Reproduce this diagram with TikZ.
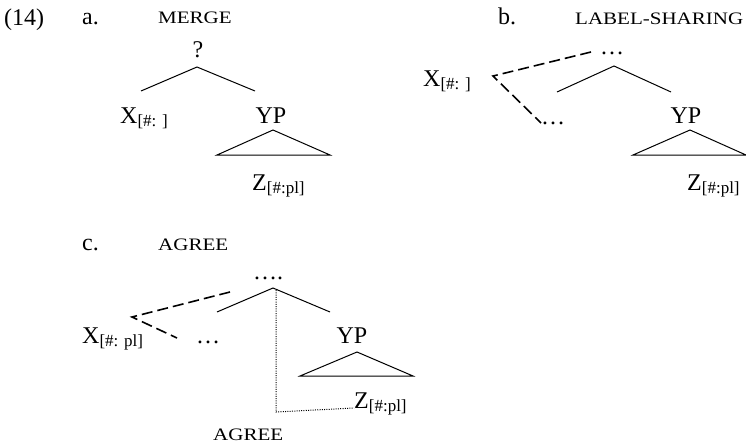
\documentclass[tikz,border=0pt]{standalone}
\usepackage{fontspec}
\setmainfont{Liberation Serif}
\newfontfamily\capsfont[FakeStretch=1.2]{Liberation Serif}
\newcommand{\featsub}[1]{\raisebox{-3pt}{\fontsize{17}{20}\selectfont#1}}

\begin{document}
\begin{tikzpicture}[
  x=1pt, y=-1pt,
  every node/.style={inner sep=0pt, anchor=base west, font=\fontsize{24}{28}\selectfont},
  lbl/.style={font=\capsfont\fontsize{17.5}{20}\selectfont},
  branch/.style={line width=1pt},
  share/.style={line width=1.6pt, dash pattern=on 11pt off 5pt},
  agr/.style={line width=1pt, dash pattern=on 1pt off 1.3pt}
]
\useasboundingbox (0,0) rectangle (746,444);

\node (ex) at (4,26) {(14)};
\node (a) at (82,25) {a.};
\node[lbl] (merge) at (158,24) {MERGE};
\node[anchor=base] (qa) at (198,57) {?};
\node (xa) at (120,123) {X\featsub{[\#: ]}};
\node[anchor=base] (ypa) at (271,123) {YP};
\node (za) at (252,190) {Z\featsub{[\#:pl]}};
\coordinate (ta) at (197,67);
\coordinate (tal) at (141,91);
\coordinate (tar) at (255,91);
\coordinate (tra) at (273,130);
\coordinate (tral) at (217,155);
\coordinate (trar) at (330,155);
\draw[branch] (tal) -- (ta) -- (tar);
\draw[branch] (tral) -- (tra) -- (trar) -- cycle;

\node (b) at (498,25) {b.};
\node[lbl] (share) at (575,25) {LABEL-SHARING};
\node (dotsb) at (600,55) {…};
\node (xb) at (423,86) {X\featsub{[\#: ]}};
\node (lowb) at (541,124) {…};
\node[anchor=base] (ypb) at (686,123) {YP};
\node (zb) at (687,190) {Z\featsub{[\#:pl]}};
\coordinate (sb) at (493,76);
\coordinate (sbu) at (591,52);
\coordinate (sbl) at (541,123);
\coordinate (tb) at (614,66);
\coordinate (tbl) at (557,92);
\coordinate (tbr) at (671,92);
\coordinate (trb) at (690,130);
\coordinate (trbl) at (633,155);
\coordinate (trbr) at (746,155);
\draw[share] (sbu) -- (sb) -- (sbl);
\draw[branch] (tbl) -- (tb) -- (tbr);
\draw[branch] (trbl) -- (trb) -- (trbr) -- cycle;

\node (c) at (82,250) {c.};
\node[lbl] (agree) at (158,250) {AGREE};
\node (dotsc) at (253,279) {….};
\node (xc) at (82,343) {X\featsub{[\#: pl]}};
\node (lowc) at (196,343) {…};
\node[anchor=base] (ypc) at (352,343) {YP};
\node (zc) at (354,408) {Z\featsub{[\#:pl]}};
\node[lbl] (agreeb) at (213,440) {AGREE};
\coordinate (sc) at (132,317);
\coordinate (scu) at (230,292);
\coordinate (scl) at (177,338);
\coordinate (tc) at (273,288);
\coordinate (tcl) at (217,312);
\coordinate (tcr) at (330,312);
\coordinate (trc) at (357,352);
\coordinate (trcl) at (300,376);
\coordinate (trcr) at (413,376);
\coordinate (ag) at (276,290);
\coordinate (agc) at (276,412);
\coordinate (age) at (354,408);
\draw[share] (scu) -- (sc) -- (scl);
\draw[branch] (tcl) -- (tc) -- (tcr);
\draw[branch] (trcl) -- (trc) -- (trcr) -- cycle;
\draw[agr] (ag) -- (agc) -- (age);
\end{tikzpicture}
\end{document}
